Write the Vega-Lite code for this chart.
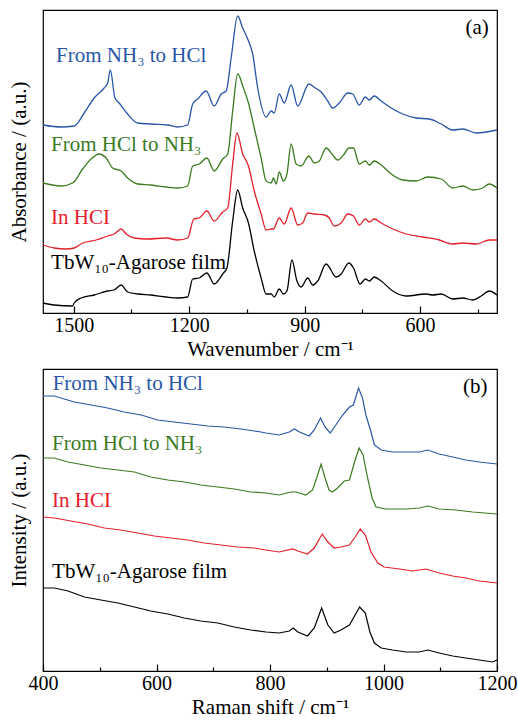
{
 "$schema": "https://vega.github.io/schema/vega-lite/v6.json",
 "padding": {"left": 7, "top": 9, "right": 0, "bottom": 0},
 "spacing": 8,
 "config": {
  "font": "Liberation Serif, Times New Roman, serif",
  "view": {"stroke": "#000", "strokeWidth": 1.2},
  "axis": {"domain": false, "grid": false, "labelFont": "Liberation Serif, Times New Roman, serif", "titleFont": "Liberation Serif, Times New Roman, serif", "labelFontSize": 20, "titleFontSize": 21, "titleFontWeight": "normal", "labelColor": "#000", "titleColor": "#000", "tickColor": "#000", "tickWidth": 1.2, "format": "d"}
 },
 "datasets": {
  "ftir": [
   {"s":"n2h","x":1580,"y":188},{"s":"n2h","x":1533,"y":186},{"s":"n2h","x":1499,"y":187},{"s":"n2h","x":1473,"y":200},{"s":"n2h","x":1447,"y":215},{"s":"n2h","x":1421,"y":225},{"s":"n2h","x":1412,"y":230},{"s":"n2h","x":1405,"y":243},{"s":"n2h","x":1393,"y":215},{"s":"n2h","x":1382,"y":210},{"s":"n2h","x":1360,"y":199},{"s":"n2h","x":1334,"y":190},{"s":"n2h","x":1299,"y":189},{"s":"n2h","x":1256,"y":188},{"s":"n2h","x":1230,"y":186},{"s":"n2h","x":1204,"y":188},{"s":"n2h","x":1191,"y":209},{"s":"n2h","x":1178,"y":214},{"s":"n2h","x":1156,"y":222},{"s":"n2h","x":1135,"y":207},{"s":"n2h","x":1117,"y":219},{"s":"n2h","x":1104,"y":222},{"s":"n2h","x":1091,"y":255},{"s":"n2h","x":1074,"y":297},{"s":"n2h","x":1061,"y":285},{"s":"n2h","x":1048,"y":274},{"s":"n2h","x":1035,"y":259},{"s":"n2h","x":1022,"y":225},{"s":"n2h","x":1000,"y":196},{"s":"n2h","x":987,"y":202},{"s":"n2h","x":979,"y":200},{"s":"n2h","x":966,"y":219},{"s":"n2h","x":953,"y":210},{"s":"n2h","x":935,"y":228},{"s":"n2h","x":918,"y":207},{"s":"n2h","x":889,"y":229},{"s":"n2h","x":872,"y":225},{"s":"n2h","x":857,"y":221},{"s":"n2h","x":840,"y":212},{"s":"n2h","x":827,"y":205},{"s":"n2h","x":810,"y":210},{"s":"n2h","x":788,"y":220},{"s":"n2h","x":775,"y":219},{"s":"n2h","x":758,"y":208},{"s":"n2h","x":742,"y":216},{"s":"n2h","x":732,"y":213},{"s":"n2h","x":719,"y":217},{"s":"n2h","x":701,"y":212},{"s":"n2h","x":675,"y":205},{"s":"n2h","x":645,"y":199},{"s":"n2h","x":610,"y":195},{"s":"n2h","x":576,"y":194},{"s":"n2h","x":545,"y":189},{"s":"n2h","x":515,"y":183},{"s":"n2h","x":489,"y":184},{"s":"n2h","x":454,"y":180},{"s":"n2h","x":400,"y":183},
   {"s":"h2n","x":1580,"y":130},{"s":"h2n","x":1533,"y":127},{"s":"h2n","x":1503,"y":130},{"s":"h2n","x":1477,"y":144},{"s":"h2n","x":1455,"y":154},{"s":"h2n","x":1434,"y":159},{"s":"h2n","x":1416,"y":155},{"s":"h2n","x":1399,"y":145},{"s":"h2n","x":1377,"y":142},{"s":"h2n","x":1360,"y":135},{"s":"h2n","x":1334,"y":129},{"s":"h2n","x":1299,"y":128},{"s":"h2n","x":1260,"y":126},{"s":"h2n","x":1230,"y":125},{"s":"h2n","x":1204,"y":127},{"s":"h2n","x":1191,"y":147},{"s":"h2n","x":1174,"y":149},{"s":"h2n","x":1154,"y":155},{"s":"h2n","x":1135,"y":142},{"s":"h2n","x":1113,"y":154},{"s":"h2n","x":1100,"y":159},{"s":"h2n","x":1087,"y":202},{"s":"h2n","x":1074,"y":239},{"s":"h2n","x":1059,"y":225},{"s":"h2n","x":1046,"y":210},{"s":"h2n","x":1031,"y":185},{"s":"h2n","x":1013,"y":155},{"s":"h2n","x":1000,"y":132},{"s":"h2n","x":987,"y":130},{"s":"h2n","x":981,"y":135},{"s":"h2n","x":974,"y":129},{"s":"h2n","x":966,"y":141},{"s":"h2n","x":955,"y":132},{"s":"h2n","x":946,"y":139},{"s":"h2n","x":935,"y":169},{"s":"h2n","x":922,"y":149},{"s":"h2n","x":909,"y":147},{"s":"h2n","x":889,"y":157},{"s":"h2n","x":875,"y":150},{"s":"h2n","x":862,"y":152},{"s":"h2n","x":844,"y":165},{"s":"h2n","x":827,"y":158},{"s":"h2n","x":814,"y":153},{"s":"h2n","x":797,"y":159},{"s":"h2n","x":785,"y":165},{"s":"h2n","x":773,"y":165},{"s":"h2n","x":758,"y":149},{"s":"h2n","x":742,"y":152},{"s":"h2n","x":732,"y":148},{"s":"h2n","x":719,"y":152},{"s":"h2n","x":701,"y":148},{"s":"h2n","x":675,"y":139},{"s":"h2n","x":645,"y":133},{"s":"h2n","x":610,"y":132},{"s":"h2n","x":580,"y":136},{"s":"h2n","x":545,"y":134},{"s":"h2n","x":515,"y":125},{"s":"h2n","x":489,"y":127},{"s":"h2n","x":463,"y":123},{"s":"h2n","x":437,"y":125},{"s":"h2n","x":420,"y":129},{"s":"h2n","x":400,"y":125},
   {"s":"hcl","x":1580,"y":68},{"s":"hcl","x":1551,"y":65},{"s":"hcl","x":1520,"y":64},{"s":"hcl","x":1499,"y":65},{"s":"hcl","x":1477,"y":70},{"s":"hcl","x":1442,"y":73},{"s":"hcl","x":1412,"y":77},{"s":"hcl","x":1395,"y":79},{"s":"hcl","x":1377,"y":84},{"s":"hcl","x":1364,"y":79},{"s":"hcl","x":1343,"y":75},{"s":"hcl","x":1308,"y":74},{"s":"hcl","x":1260,"y":75},{"s":"hcl","x":1230,"y":73},{"s":"hcl","x":1204,"y":75},{"s":"hcl","x":1188,"y":94},{"s":"hcl","x":1174,"y":95},{"s":"hcl","x":1154,"y":102},{"s":"hcl","x":1135,"y":92},{"s":"hcl","x":1113,"y":101},{"s":"hcl","x":1100,"y":105},{"s":"hcl","x":1087,"y":149},{"s":"hcl","x":1076,"y":180},{"s":"hcl","x":1061,"y":159},{"s":"hcl","x":1046,"y":147},{"s":"hcl","x":1031,"y":122},{"s":"hcl","x":1013,"y":99},{"s":"hcl","x":1000,"y":83},{"s":"hcl","x":987,"y":84},{"s":"hcl","x":981,"y":84},{"s":"hcl","x":966,"y":95},{"s":"hcl","x":953,"y":89},{"s":"hcl","x":935,"y":105},{"s":"hcl","x":918,"y":88},{"s":"hcl","x":905,"y":90},{"s":"hcl","x":892,"y":100},{"s":"hcl","x":875,"y":99},{"s":"hcl","x":849,"y":98},{"s":"hcl","x":836,"y":95},{"s":"hcl","x":823,"y":87},{"s":"hcl","x":805,"y":90},{"s":"hcl","x":788,"y":99},{"s":"hcl","x":773,"y":97},{"s":"hcl","x":758,"y":88},{"s":"hcl","x":742,"y":94},{"s":"hcl","x":732,"y":91},{"s":"hcl","x":719,"y":94},{"s":"hcl","x":701,"y":90},{"s":"hcl","x":671,"y":84},{"s":"hcl","x":636,"y":79},{"s":"hcl","x":593,"y":76},{"s":"hcl","x":550,"y":73},{"s":"hcl","x":515,"y":69},{"s":"hcl","x":489,"y":70},{"s":"hcl","x":454,"y":69},{"s":"hcl","x":420,"y":73},{"s":"hcl","x":400,"y":73},
   {"s":"film","x":1580,"y":10},{"s":"film","x":1551,"y":8},{"s":"film","x":1503,"y":7},{"s":"film","x":1499,"y":10},{"s":"film","x":1481,"y":15},{"s":"film","x":1447,"y":18},{"s":"film","x":1412,"y":22},{"s":"film","x":1395,"y":23},{"s":"film","x":1377,"y":28},{"s":"film","x":1360,"y":21},{"s":"film","x":1334,"y":19},{"s":"film","x":1299,"y":18},{"s":"film","x":1260,"y":16},{"s":"film","x":1230,"y":15},{"s":"film","x":1204,"y":16},{"s":"film","x":1191,"y":34},{"s":"film","x":1174,"y":35},{"s":"film","x":1154,"y":40},{"s":"film","x":1135,"y":29},{"s":"film","x":1113,"y":39},{"s":"film","x":1102,"y":45},{"s":"film","x":1087,"y":92},{"s":"film","x":1074,"y":123},{"s":"film","x":1061,"y":105},{"s":"film","x":1046,"y":90},{"s":"film","x":1031,"y":62},{"s":"film","x":1013,"y":35},{"s":"film","x":1000,"y":19},{"s":"film","x":987,"y":19},{"s":"film","x":979,"y":16},{"s":"film","x":966,"y":24},{"s":"film","x":955,"y":19},{"s":"film","x":946,"y":22},{"s":"film","x":933,"y":53},{"s":"film","x":920,"y":32},{"s":"film","x":909,"y":26},{"s":"film","x":892,"y":35},{"s":"film","x":879,"y":28},{"s":"film","x":866,"y":32},{"s":"film","x":844,"y":49},{"s":"film","x":818,"y":36},{"s":"film","x":805,"y":39},{"s":"film","x":785,"y":50},{"s":"film","x":773,"y":45},{"s":"film","x":756,"y":29},{"s":"film","x":742,"y":34},{"s":"film","x":732,"y":32},{"s":"film","x":719,"y":36},{"s":"film","x":701,"y":32},{"s":"film","x":671,"y":22},{"s":"film","x":636,"y":17},{"s":"film","x":584,"y":19},{"s":"film","x":567,"y":18},{"s":"film","x":545,"y":19},{"s":"film","x":515,"y":14},{"s":"film","x":489,"y":15},{"s":"film","x":463,"y":13},{"s":"film","x":441,"y":17},{"s":"film","x":420,"y":22},{"s":"film","x":400,"y":18}
  ],
  "raman": [
   {"s":"n2h","x":400,"y":275},{"s":"n2h","x":420,"y":275},{"s":"n2h","x":455,"y":269},{"s":"n2h","x":485,"y":266},{"s":"n2h","x":514,"y":263},{"s":"n2h","x":543,"y":259},{"s":"n2h","x":573,"y":256},{"s":"n2h","x":602,"y":251},{"s":"n2h","x":631,"y":249},{"s":"n2h","x":661,"y":247},{"s":"n2h","x":690,"y":245},{"s":"n2h","x":719,"y":244},{"s":"n2h","x":749,"y":242},{"s":"n2h","x":784,"y":239},{"s":"n2h","x":793,"y":238},{"s":"n2h","x":816,"y":236},{"s":"n2h","x":834,"y":239},{"s":"n2h","x":843,"y":242},{"s":"n2h","x":852,"y":239},{"s":"n2h","x":869,"y":235},{"s":"n2h","x":878,"y":241},{"s":"n2h","x":889,"y":253},{"s":"n2h","x":897,"y":244},{"s":"n2h","x":906,"y":238},{"s":"n2h","x":916,"y":246},{"s":"n2h","x":928,"y":256},{"s":"n2h","x":940,"y":264},{"s":"n2h","x":947,"y":266},{"s":"n2h","x":956,"y":283},{"s":"n2h","x":963,"y":273},{"s":"n2h","x":969,"y":256},{"s":"n2h","x":978,"y":239},{"s":"n2h","x":984,"y":226},{"s":"n2h","x":996,"y":221},{"s":"n2h","x":1016,"y":219},{"s":"n2h","x":1040,"y":219},{"s":"n2h","x":1063,"y":219},{"s":"n2h","x":1078,"y":221},{"s":"n2h","x":1098,"y":217},{"s":"n2h","x":1122,"y":214},{"s":"n2h","x":1145,"y":211},{"s":"n2h","x":1169,"y":209},{"s":"n2h","x":1200,"y":207},
   {"s":"h2n","x":400,"y":213},{"s":"h2n","x":420,"y":213},{"s":"h2n","x":444,"y":209},{"s":"h2n","x":473,"y":206},{"s":"h2n","x":502,"y":203},{"s":"h2n","x":532,"y":201},{"s":"h2n","x":561,"y":199},{"s":"h2n","x":590,"y":194},{"s":"h2n","x":620,"y":191},{"s":"h2n","x":649,"y":189},{"s":"h2n","x":678,"y":186},{"s":"h2n","x":708,"y":184},{"s":"h2n","x":737,"y":182},{"s":"h2n","x":766,"y":179},{"s":"h2n","x":793,"y":178},{"s":"h2n","x":816,"y":176},{"s":"h2n","x":837,"y":179},{"s":"h2n","x":846,"y":179},{"s":"h2n","x":863,"y":176},{"s":"h2n","x":875,"y":181},{"s":"h2n","x":884,"y":196},{"s":"h2n","x":890,"y":207},{"s":"h2n","x":897,"y":193},{"s":"h2n","x":904,"y":181},{"s":"h2n","x":910,"y":179},{"s":"h2n","x":919,"y":183},{"s":"h2n","x":931,"y":190},{"s":"h2n","x":940,"y":191},{"s":"h2n","x":949,"y":209},{"s":"h2n","x":957,"y":223},{"s":"h2n","x":964,"y":216},{"s":"h2n","x":972,"y":193},{"s":"h2n","x":980,"y":173},{"s":"h2n","x":987,"y":164},{"s":"h2n","x":1004,"y":162},{"s":"h2n","x":1040,"y":162},{"s":"h2n","x":1063,"y":163},{"s":"h2n","x":1078,"y":165},{"s":"h2n","x":1098,"y":162},{"s":"h2n","x":1128,"y":161},{"s":"h2n","x":1157,"y":159},{"s":"h2n","x":1200,"y":157},
   {"s":"hcl","x":400,"y":154},{"s":"hcl","x":420,"y":153},{"s":"hcl","x":449,"y":150},{"s":"hcl","x":479,"y":147},{"s":"hcl","x":508,"y":143},{"s":"hcl","x":537,"y":141},{"s":"hcl","x":567,"y":138},{"s":"hcl","x":596,"y":135},{"s":"hcl","x":626,"y":133},{"s":"hcl","x":655,"y":131},{"s":"hcl","x":684,"y":128},{"s":"hcl","x":714,"y":126},{"s":"hcl","x":743,"y":124},{"s":"hcl","x":772,"y":123},{"s":"hcl","x":793,"y":121},{"s":"hcl","x":816,"y":119},{"s":"hcl","x":840,"y":122},{"s":"hcl","x":849,"y":120},{"s":"hcl","x":866,"y":117},{"s":"hcl","x":878,"y":123},{"s":"hcl","x":892,"y":137},{"s":"hcl","x":902,"y":129},{"s":"hcl","x":913,"y":123},{"s":"hcl","x":925,"y":124},{"s":"hcl","x":940,"y":126},{"s":"hcl","x":950,"y":134},{"s":"hcl","x":959,"y":142},{"s":"hcl","x":968,"y":136},{"s":"hcl","x":978,"y":119},{"s":"hcl","x":990,"y":108},{"s":"hcl","x":1001,"y":104},{"s":"hcl","x":1028,"y":102},{"s":"hcl","x":1051,"y":100},{"s":"hcl","x":1075,"y":102},{"s":"hcl","x":1098,"y":98},{"s":"hcl","x":1122,"y":95},{"s":"hcl","x":1145,"y":93},{"s":"hcl","x":1169,"y":90},{"s":"hcl","x":1200,"y":88},
   {"s":"film","x":400,"y":83},{"s":"film","x":420,"y":83},{"s":"film","x":444,"y":80},{"s":"film","x":473,"y":74},{"s":"film","x":502,"y":71},{"s":"film","x":532,"y":68},{"s":"film","x":561,"y":64},{"s":"film","x":590,"y":60},{"s":"film","x":620,"y":57},{"s":"film","x":649,"y":53},{"s":"film","x":678,"y":50},{"s":"film","x":708,"y":48},{"s":"film","x":737,"y":44},{"s":"film","x":766,"y":41},{"s":"film","x":793,"y":39},{"s":"film","x":816,"y":38},{"s":"film","x":834,"y":40},{"s":"film","x":841,"y":43},{"s":"film","x":849,"y":39},{"s":"film","x":866,"y":35},{"s":"film","x":878,"y":43},{"s":"film","x":891,"y":63},{"s":"film","x":902,"y":46},{"s":"film","x":913,"y":38},{"s":"film","x":925,"y":41},{"s":"film","x":940,"y":46},{"s":"film","x":950,"y":56},{"s":"film","x":958,"y":64},{"s":"film","x":968,"y":58},{"s":"film","x":976,"y":39},{"s":"film","x":984,"y":28},{"s":"film","x":996,"y":23},{"s":"film","x":1016,"y":21},{"s":"film","x":1040,"y":19},{"s":"film","x":1063,"y":19},{"s":"film","x":1078,"y":21},{"s":"film","x":1098,"y":18},{"s":"film","x":1122,"y":15},{"s":"film","x":1145,"y":13},{"s":"film","x":1169,"y":11},{"s":"film","x":1192,"y":9},{"s":"film","x":1200,"y":11}
  ],
  "ftirLab": [
   {"s":"n2h","t":"From NH₃ to HCl","x":1546,"y":251},
   {"s":"h2n","t":"From HCl to NH₃","x":1559,"y":162},
   {"s":"hcl","t":"In HCI","x":1559,"y":89},
   {"s":"film","t":"TbW₁₀-Agarose film","x":1559,"y":44},
   {"s":"tag","t":"(a)","x":482,"y":279}
  ],
  "ramanLab": [
   {"s":"n2h","t":"From NH₃ to HCl","x":417,"y":281},
   {"s":"h2n","t":"From HCl to NH₃","x":416,"y":221},
   {"s":"hcl","t":"In HCI","x":416,"y":164},
   {"s":"film","t":"TbW₁₀-Agarose film","x":416,"y":93},
   {"s":"tag","t":"(b)","x":1140,"y":278}
  ]
 },
 "vconcat": [
  {
   "width": 454, "height": 303,
   "layer": [
    {
     "data": {"name": "ftir"},
     "mark": {"type": "line", "interpolate": "monotone", "strokeWidth": 1.3},
     "encoding": {
      "x": {"field": "x", "type": "quantitative", "scale": {"domain": [400, 1580], "reverse": true, "nice": false, "zero": false},
        "axis": {"title": "Wavenumber / cm⁻¹", "format": "d", "values": [1500, 1350, 1200, 1050, 900, 750, 600, 450], "labelExpr": "datum.value % 300 === 0 ? datum.label : ''", "tickSize": {"condition": {"test": "datum.value % 300 === 0", "value": -7}, "value": -4}, "labelPadding": 9, "titlePadding": 0, "labelFlush": false, "labelOverlap": false}},
      "y": {"field": "y", "type": "quantitative", "scale": {"domain": [0, 303], "nice": false, "zero": false},
        "axis": {"title": "Absorbance / (a.u.)", "labels": false, "ticks": false, "titlePadding": 14}},
      "color": {"field": "s", "type": "nominal", "scale": {"domain": ["n2h", "h2n", "hcl", "film", "tag"], "range": ["#2a56a6", "#3b7b1f", "#e3202b", "#000000", "#000000"]}, "legend": null}
     }
    },
    {
     "data": {"name": "ftirLab"},
     "mark": {"type": "text", "align": "left", "baseline": "alphabetic", "fontSize": 21, "font": "Liberation Serif, Times New Roman, serif"},
     "encoding": {
      "x": {"field": "x", "type": "quantitative", "scale": {"domain": [400, 1580], "reverse": true, "nice": false, "zero": false}},
      "y": {"field": "y", "type": "quantitative", "scale": {"domain": [0, 303], "nice": false, "zero": false}},
      "text": {"field": "t"},
      "color": {"field": "s", "type": "nominal", "scale": {"domain": ["n2h", "h2n", "hcl", "film", "tag"], "range": ["#2a56a6", "#3b7b1f", "#e3202b", "#000000", "#000000"]}, "legend": null}
     }
    }
   ]
  },
  {
   "width": 454, "height": 302,
   "layer": [
    {
     "data": {"name": "raman"},
     "mark": {"type": "line", "strokeWidth": 1.2},
     "encoding": {
      "x": {"field": "x", "type": "quantitative", "scale": {"domain": [400, 1200], "nice": false, "zero": false},
        "axis": {"title": "Raman shift / cm⁻¹", "format": "d", "values": [400, 500, 600, 700, 800, 900, 1000, 1100, 1200], "labelExpr": "datum.value % 200 === 0 ? datum.label : ''", "tickSize": {"condition": {"test": "datum.value % 200 === 0", "value": -7}, "value": -4}, "labelPadding": 9, "titlePadding": 0, "labelFlush": false, "labelOverlap": false}},
      "y": {"field": "y", "type": "quantitative", "scale": {"domain": [0, 302], "nice": false, "zero": false},
        "axis": {"title": "Intensity / (a.u.)", "labels": false, "ticks": false, "titlePadding": 14}},
      "color": {"field": "s", "type": "nominal", "scale": {"domain": ["n2h", "h2n", "hcl", "film", "tag"], "range": ["#2a56a6", "#3b7b1f", "#e3202b", "#000000", "#000000"]}, "legend": null}
     }
    },
    {
     "data": {"name": "ramanLab"},
     "mark": {"type": "text", "align": "left", "baseline": "alphabetic", "fontSize": 21, "font": "Liberation Serif, Times New Roman, serif"},
     "encoding": {
      "x": {"field": "x", "type": "quantitative", "scale": {"domain": [400, 1200], "nice": false, "zero": false}},
      "y": {"field": "y", "type": "quantitative", "scale": {"domain": [0, 302], "nice": false, "zero": false}},
      "text": {"field": "t"},
      "color": {"field": "s", "type": "nominal", "scale": {"domain": ["n2h", "h2n", "hcl", "film", "tag"], "range": ["#2a56a6", "#3b7b1f", "#e3202b", "#000000", "#000000"]}, "legend": null}
     }
    }
   ]
  }
 ]
}
